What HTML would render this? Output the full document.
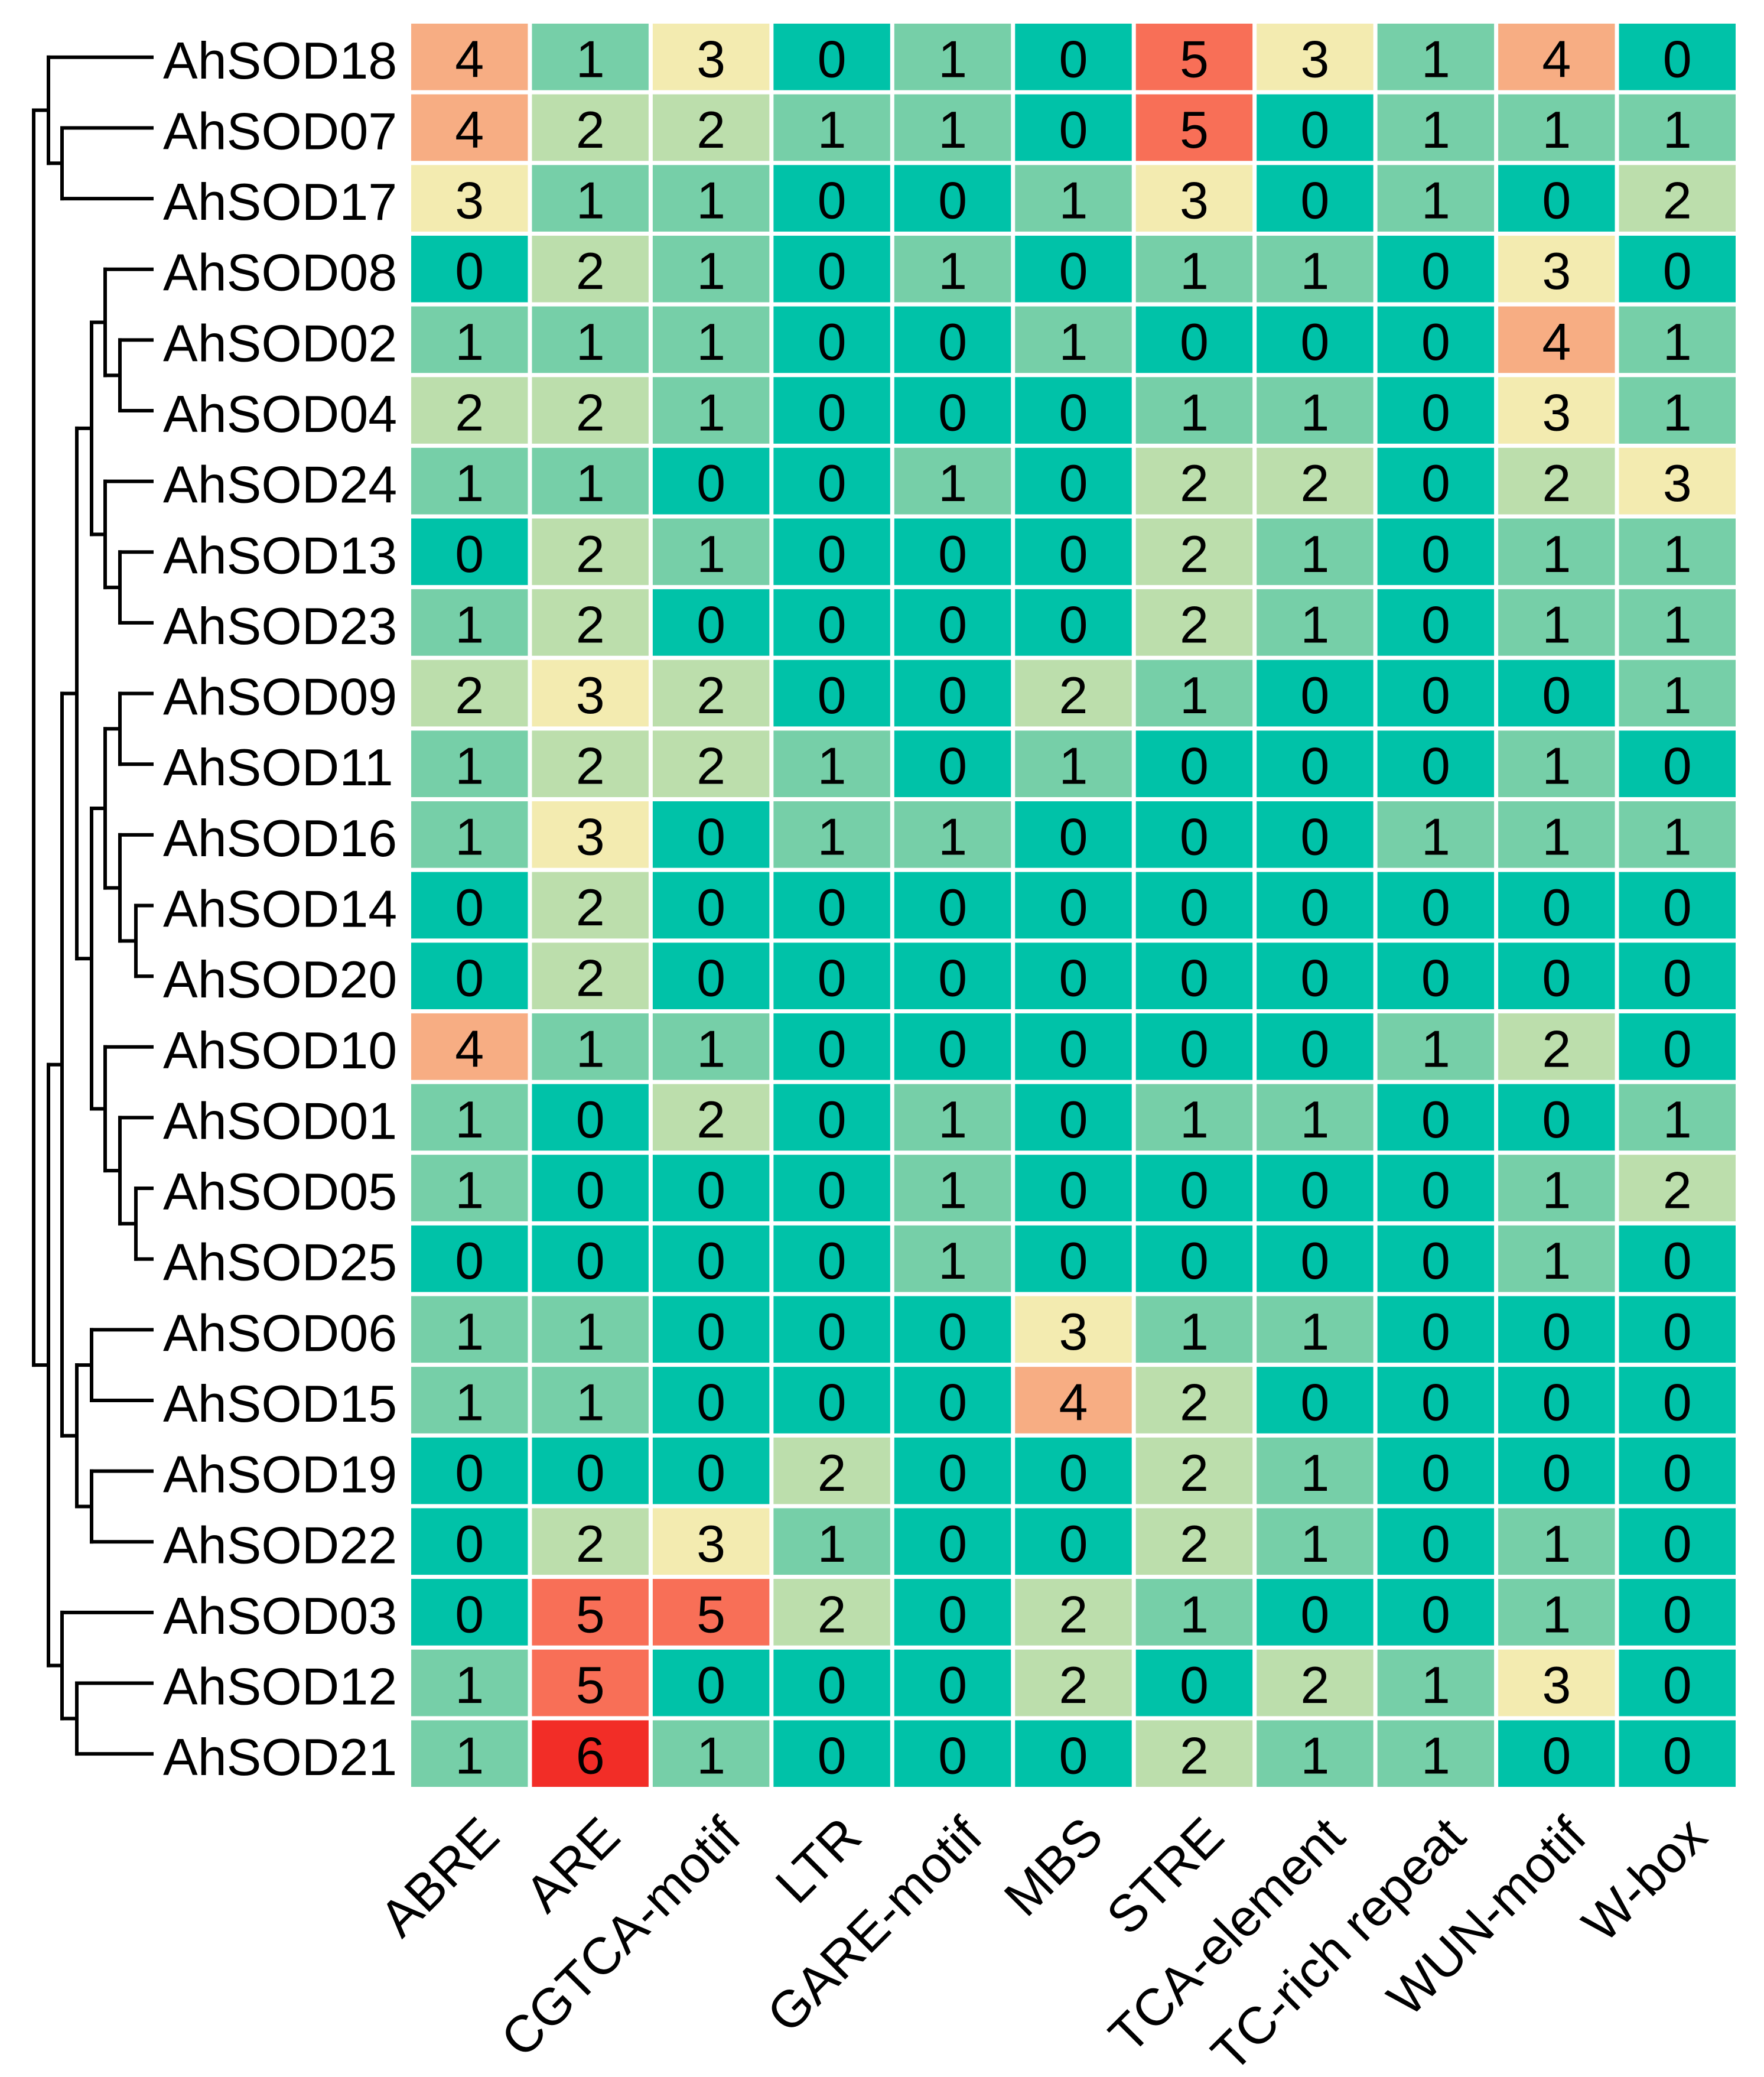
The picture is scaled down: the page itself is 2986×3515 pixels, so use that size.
<!DOCTYPE html>
<html><head><meta charset="utf-8"><style>
html,body{margin:0;padding:0;background:#fff;}
svg{display:block;}
text{font-family:"Liberation Sans",Arial,sans-serif;fill:#000;}
</style></head><body>
<svg id="chart" width="2986" height="3515" viewBox="0 0 2986 3515" xmlns="http://www.w3.org/2000/svg">
<g id="dendro"></g>
<g id="cells"></g>
<g id="rowlabels"></g>
<g id="collabels"></g>
</svg>
<script>
const genes = ["AhSOD18","AhSOD07","AhSOD17","AhSOD08","AhSOD02","AhSOD04","AhSOD24","AhSOD13","AhSOD23","AhSOD09","AhSOD11","AhSOD16","AhSOD14","AhSOD20","AhSOD10","AhSOD01","AhSOD05","AhSOD25","AhSOD06","AhSOD15","AhSOD19","AhSOD22","AhSOD03","AhSOD12","AhSOD21"];
const elements = ["ABRE","ARE","CGTCA-motif","LTR","GARE-motif","MBS","STRE","TCA-element","TC-rich repeat","WUN-motif","W-box"];
const counts = [
[4,1,3,0,1,0,5,3,1,4,0],
[4,2,2,1,1,0,5,0,1,1,1],
[3,1,1,0,0,1,3,0,1,0,2],
[0,2,1,0,1,0,1,1,0,3,0],
[1,1,1,0,0,1,0,0,0,4,1],
[2,2,1,0,0,0,1,1,0,3,1],
[1,1,0,0,1,0,2,2,0,2,3],
[0,2,1,0,0,0,2,1,0,1,1],
[1,2,0,0,0,0,2,1,0,1,1],
[2,3,2,0,0,2,1,0,0,0,1],
[1,2,2,1,0,1,0,0,0,1,0],
[1,3,0,1,1,0,0,0,1,1,1],
[0,2,0,0,0,0,0,0,0,0,0],
[0,2,0,0,0,0,0,0,0,0,0],
[4,1,1,0,0,0,0,0,1,2,0],
[1,0,2,0,1,0,1,1,0,0,1],
[1,0,0,0,1,0,0,0,0,1,2],
[0,0,0,0,1,0,0,0,0,1,0],
[1,1,0,0,0,3,1,1,0,0,0],
[1,1,0,0,0,4,2,0,0,0,0],
[0,0,0,2,0,0,2,1,0,0,0],
[0,2,3,1,0,0,2,1,0,1,0],
[0,5,5,2,0,2,1,0,0,1,0],
[1,5,0,0,0,2,0,2,1,3,0],
[1,6,1,0,0,0,2,1,1,0,0]];
const palette = ["#00c2a8","#76cfa8","#bcdeac","#f3ebb0","#f7ad83","#f86f57","#f22d27"];
// dendrogram: [level, children] ; leaves are row indices
const tree = [1,[[2,[0,[3,[1,2]]]],[2,[[3,[[4,[[5,[[6,[3,[7,[4,5]]]],[6,[6,[7,[7,8]]]]]],[5,[[6,[[7,[9,10]],[7,[11,[8,[12,13]]]]]],[6,[14,[7,[15,[8,[16,17]]]]]]]]]],[4,[[5,[18,19]],[5,[20,21]]]]]],[3,[22,[4,[23,24]]]]]]]];
const levelX = [0,57,82,105,130,155,178,203,230];

const NS="http://www.w3.org/2000/svg";
const GX0=696, GX1=2945, GY0=40, GY1=3031;
const cw=(GX1-GX0)/elements.length, rh=(GY1-GY0)/genes.length, gap=7;
const xC = j => GX0+cw*j;
const yR = i => GY0+rh*i;
const yMid = i => yR(i)+rh/2;
function mk(tag,attrs,parent){const e=document.createElementNS(NS,tag);for(const k in attrs)e.setAttribute(k,attrs[k]);parent.appendChild(e);return e;}

const cells=document.getElementById('cells');
counts.forEach((row,i)=>row.forEach((v,j)=>{
  const r=mk('rect',{x:xC(j),y:yR(i),width:cw-gap,height:rh-gap,fill:palette[v]},cells);
  
  
  const t=mk('text',{x:xC(j)+(cw-gap)/2,y:yR(i)+(rh-gap)/2+34,'font-size':88,'text-anchor':'middle'},cells);
  t.textContent=v;
  
  
}));

const rl=document.getElementById('rowlabels');
genes.forEach((g,i)=>{
  const t=mk('text',{x:276,y:yMid(i)+33,'font-size':88},rl);
  t.textContent=g;
  
  
});

const cl=document.getElementById('collabels');
elements.forEach((el,j)=>{
  const px=xC(j)+(cw-gap)/2+55, py=GY1+82;
  const t=mk('text',{x:px,y:py,'font-size':88,'text-anchor':'end',transform:`rotate(-45 ${px} ${py})`},cl);
  t.textContent=el;
  
  
});

const dg=document.getElementById('dendro');
const LEAFX=257;
function draw(node){
  if(typeof node==='number') return {x:LEAFX,y:yMid(node)-3};
  const px=levelX[node[0]];
  const ch=node[1].map(draw);
  const ys=ch.map(c=>c.y);
  const v=mk('line',{x1:px,x2:px,y1:Math.min(...ys),y2:Math.max(...ys),stroke:'#000','stroke-width':6,'stroke-linecap':'square'},dg);
  
  
  ch.forEach(c=>{
    const h=mk('line',{x1:px,x2:c.x,y1:c.y,y2:c.y,stroke:'#000','stroke-width':6,'stroke-linecap':'square'},dg);
    
    
  });
  return {x:px,y:(Math.min(...ys)+Math.max(...ys))/2};
}
draw(tree);
</script>
</body></html>
